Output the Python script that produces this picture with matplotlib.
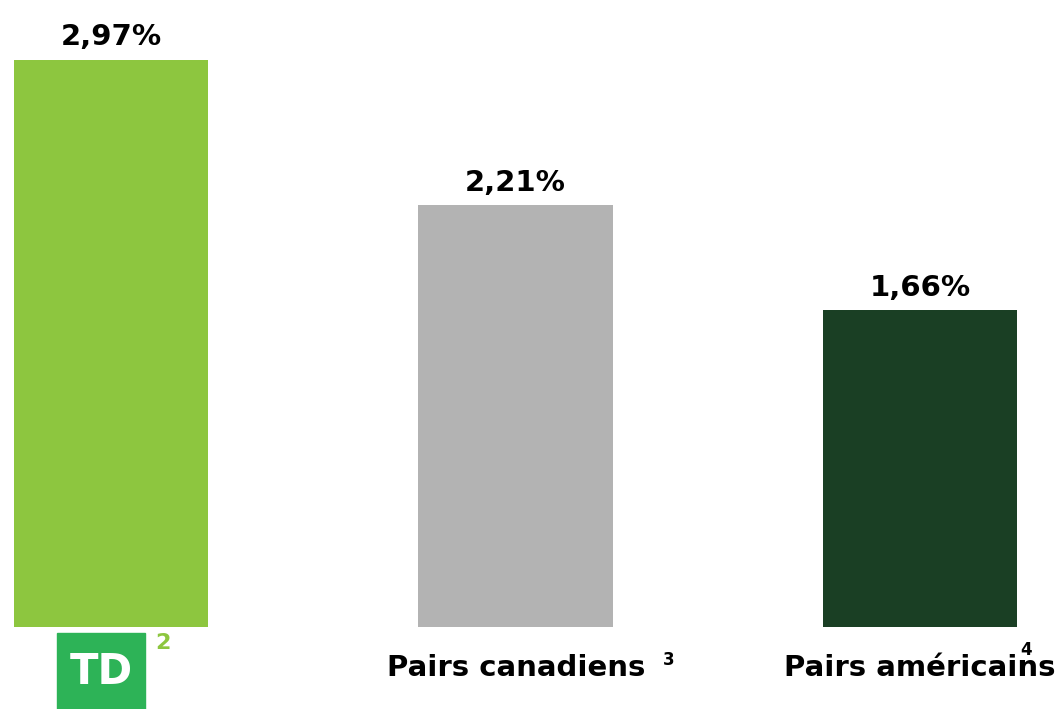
import matplotlib
matplotlib.use('Agg')
import matplotlib.pyplot as plt
from matplotlib.patches import Rectangle

# data
categories = ['TD', 'Pairs canadiens', 'Pairs américains']
values = [2.97, 2.21, 1.66]
value_labels = ['2,97%', '2,21%', '1,66%']
footnotes = ['2', '3', '4']
colors = ['#8dc63f', '#b3b3b3', '#1a3f24']

W, H = 1058, 709
fig = plt.figure(figsize=(W / 100, H / 100), dpi=100)
ax = fig.add_axes([0, (H - 627) / H, 1, 627 / H])

x = list(range(len(categories)))
ax.bar(x, values, width=0.48, color=colors)
ax.set_xlim(-0.274, 2.341)
ax.set_ylim(0, 3.283)
ax.axis('off')

# value labels above bars
for xi, v, lab in zip(x, values, value_labels):
    ax.annotate(lab, (xi, v), xytext=(0, 6), textcoords='offset points',
                ha='center', va='bottom', fontsize=21, fontweight='bold',
                family='DejaVu Sans', color='black')

# TD logo for the first category
logo = Rectangle((57 / W, 0), 88 / W, (H - 633) / H,
                 transform=fig.transFigure, color='#2db357', zorder=5)
fig.add_artist(logo)
fig.text(101 / W, (H - 672) / H, 'TD', ha='center', va='center', color='white',
         fontsize=30, fontweight='bold', family='DejaVu Sans', zorder=6)
fig.text(163 / W, (H - 643) / H, footnotes[0], ha='center', va='center',
         color='#8dc63f', fontsize=16, fontweight='bold', family='DejaVu Sans',
         zorder=6)

# other category labels with superscripts
fig.text(516 / W, (H - 668) / H, categories[1], ha='center', va='center',
         fontsize=21, fontweight='bold', family='DejaVu Sans', zorder=6)
fig.text(669 / W, (H - 660) / H, footnotes[1], ha='center', va='center',
         fontsize=12, fontweight='bold', family='DejaVu Sans', zorder=6)
fig.text(920 / W, (H - 668) / H, categories[2], ha='center', va='center',
         fontsize=21, fontweight='bold', family='DejaVu Sans', zorder=6)
fig.text(1026 / W, (H - 650) / H, footnotes[2], ha='center', va='center',
         fontsize=12, fontweight='bold', family='DejaVu Sans', zorder=6)

fig.savefig('out.png', dpi=100)
